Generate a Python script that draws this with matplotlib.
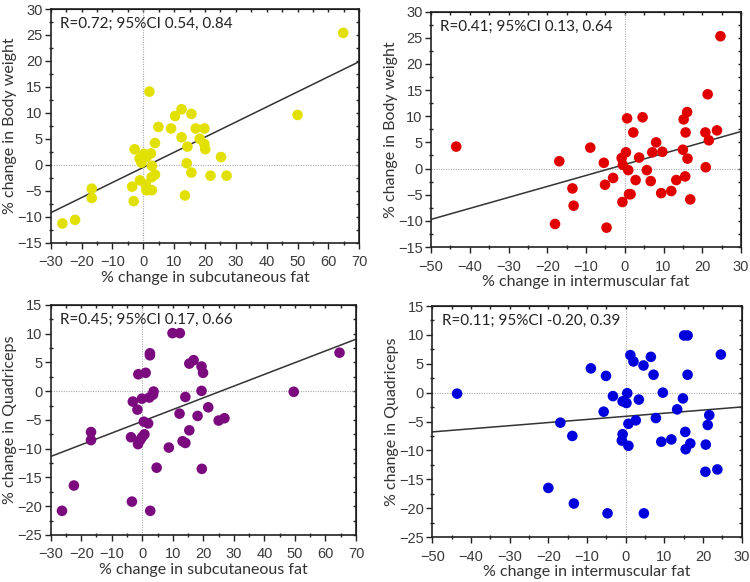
import numpy as np
import matplotlib
matplotlib.use("Agg")
import matplotlib.pyplot as plt
from matplotlib.ticker import MultipleLocator

# --- data ------------------------------------------------------------------
# top-left: subcutaneous fat vs body weight
sub_bw_x = [64.8, 50.0, 2.0, 12.4, 10.3, 15.6, 4.9, 9.0, 17.0, 19.8, 12.4, 18.3,
            3.8, 14.3, 19.8, 20.1, -2.8, 25.2, 0.2, 2.5, -1.2, 1.2, -0.6, 2.8,
            14.1, 15.6, 3.8, 2.7, 21.8, 27.0, -1.1, 0.8, -3.6, 1.0, 2.8, 13.5,
            -16.7, -16.7, -3.1, -22.1, -26.2]
sub_bw_y = [25.4, 9.6, 14.1, 10.7, 9.4, 9.8, 7.3, 7.0, 7.0, 7.0, 5.3, 5.0,
            4.2, 3.5, 4.0, 3.0, 3.0, 1.5, 2.1, 2.2, 1.2, 1.6, 0.4, -0.2,
            0.3, -1.5, -1.9, -2.4, -2.1, -2.1, -3.0, -3.8, -4.2, -4.9, -4.9, -5.9,
            -4.6, -6.4, -7.0, -10.6, -11.3]

# top-right: intermuscular fat vs body weight
imf_bw_x = [-43.5, -16.9, -8.9, -13.5, -13.2, -18.0, -4.7, -5.4, -5.1, -3.0,
            -0.8, 0.3, 0.6, -0.5, 0.9, -0.6, 1.1, 1.5, 2.2, 2.8, 3.7, 4.6, 5.7,
            6.7, 7.1, 8.1, 9.7, 9.4, 12.0, 13.3, 15.0, 15.2, 16.1, 15.7, 15.6,
            16.2, 16.9, 20.8, 21.4, 20.9, 21.7, 23.8, 24.7]
imf_bw_y = [4.2, 1.4, 4.0, -3.8, -7.1, -10.6, -11.3, 1.1, -3.1, -1.8,
            2.0, 3.1, 9.6, 0.7, -0.3, -6.4, -4.9, -4.9, 6.9, -2.2, 2.1, 9.8, -0.3,
            -2.4, 3.1, 5.0, 3.2, -4.7, -4.3, -2.2, 3.6, 9.4, 10.8, 6.9, -1.5,
            1.9, -5.9, 6.9, 14.2, 0.25, 5.4, 7.3, 25.3]

# bottom-left: subcutaneous fat vs quadriceps
sub_q_x = [64.6, 49.6, 9.9, 12.3, 2.5, 2.5, 15.4, 16.8, 19.4, 19.9, -1.3, 1.1,
           19.4, 3.7, 3.5, 2.3, -0.1, -3.1, 14.1, -1.6, 21.6, 12.2, 18.1, 25.0,
           26.9, 0.5, 1.9, 0.7, -0.1, -0.7, -1.4, -3.7, 15.4, 13.2, 14.1, 8.7,
           -16.8, -16.8, 4.7, 19.5, -22.4, -26.3, -3.4, 2.6]
sub_q_y = [6.7, -0.1, 10.1, 10.1, 6.6, 6.25, 4.8, 5.4, 4.3, 3.2, 2.95, 3.2,
           0.06, -0.06, -0.6, -1.1, -1.3, -1.8, -1.0, -3.2, -2.8, -3.9, -4.3, -5.1,
           -4.7, -5.3, -5.6, -7.5, -8.0, -8.5, -9.2, -8.0, -6.8, -8.7, -9.0, -9.8,
           -7.1, -8.5, -13.3, -13.5, -16.4, -20.8, -19.2, -20.8]

# bottom-right: intermuscular fat vs quadriceps
imf_q_x = [-43.6, -9.0, -5.1, -16.9, -13.8, -20.0, -13.4, -4.7, -5.7, -3.3,
           -0.8, 0.2, 0.4, -0.8, -1.0, 0.7, 0.7, 1.2, 2.0, 2.6, 3.4, 4.6, 6.5,
           7.2, 7.8, 9.6, 9.2, 11.8, 13.3, 14.8, 15.1, 16.0, 15.4, 16.0, 15.5,
           16.7, 21.6, 21.2, 20.7, 20.6, 23.7, 24.6, 4.7]
imf_q_y = [-0.17, 4.2, 2.9, -5.2, -7.5, -16.5, -19.2, -20.9, -3.3, -0.6,
           -1.5, -1.8, -0.1, -7.2, -8.3, -9.2, -5.4, 6.5, 5.4, -4.8, -1.2, 4.7, 6.2,
           3.1, -4.4, 0.0, -8.5, -8.1, -2.9, -1.0, 9.9, 9.9, -6.8, 3.1, -9.8,
           -8.8, -3.9, -5.6, -9.0, -13.7, -13.3, 6.6, -20.9]

# regression lines (slope, intercept)
fit_slopes = [0.291, 0.21, 0.204, 0.054]
fit_intercepts = [-0.5, 0.78, -5.23, -4.1]

stats_text = ["R=0.72; 95%CI 0.54, 0.84",
              "R=0.41; 95%CI 0.13, 0.64",
              "R=0.45; 95%CI 0.17, 0.66",
              "R=0.11; 95%CI -0.20, 0.39"]

xlabels = ["% change in subcutaneous fat", "% change in intermuscular fat",
           "% change in subcutaneous fat", "% change in intermuscular fat"]
ylabels = ["% change in Body weight", "% change in Body weight",
           "% change in Quadriceps", "% change in Quadriceps"]

xlims = [(-30, 70), (-50, 30), (-30, 70), (-50, 30)]
ylims = [(-15, 30), (-15, 30), (-25, 15), (-25, 15)]

colors = ["#e2e000", "#e00000", "#7a0a7e", "#0000dc"]

panels = [(sub_bw_x, sub_bw_y), (imf_bw_x, imf_bw_y),
          (sub_q_x, sub_q_y), (imf_q_x, imf_q_y)]

# axes rectangles in figure fractions
rects = [
    [0.0676, 0.583, 0.4114, 0.4015],
    [0.5747, 0.5756, 0.4133, 0.4044],
    [0.0676, 0.0808, 0.4071, 0.3952],
    [0.5764, 0.0773, 0.4126, 0.3969],
]

LABEL_FONT = ["Lato", "DejaVu Sans"]
TICK_FONT = ["Liberation Sans", "DejaVu Sans"]

fig = plt.figure(figsize=(7.5, 5.82), dpi=100, facecolor="white")

for i, (xs, ys) in enumerate(panels):
    ax = fig.add_axes(rects[i])
    x0, x1 = xlims[i]
    y0, y1 = ylims[i]

    ax.axhline(0, color="#aaaaaa", lw=0.8, ls=(0, (1, 1.2)), zorder=1)
    ax.axvline(0, color="#aaaaaa", lw=0.8, ls=(0, (1, 1.2)), zorder=1)

    ax.scatter(xs, ys, s=58, color=colors[i], edgecolors="none", zorder=3)

    lx = np.array([x0, x1])
    ax.plot(lx, fit_slopes[i] * lx + fit_intercepts[i], color="#333333",
            lw=1.1, zorder=2)

    ax.set_xlim(x0, x1)
    ax.set_ylim(y0, y1)
    ax.xaxis.set_major_locator(MultipleLocator(10))
    ax.xaxis.set_minor_locator(MultipleLocator(5))
    ax.yaxis.set_major_locator(MultipleLocator(5))
    ax.yaxis.set_minor_locator(MultipleLocator(2.5))
    ax.tick_params(which="major", direction="out", length=4, width=1,
                   color="#222222", labelcolor="#3a3a3a", labelsize=10.5, pad=2)
    ax.tick_params(axis="x", which="major", pad=5)
    ax.tick_params(which="minor", direction="inout", length=3, width=1,
                   color="#222222")
    for lab in ax.get_xticklabels() + ax.get_yticklabels():
        lab.set_family(TICK_FONT)

    for sp in ax.spines.values():
        sp.set_color("#222222")
        sp.set_linewidth(1.2)

    # inward ticks on top and right
    top = ax.secondary_xaxis("top")
    top.xaxis.set_major_locator(MultipleLocator(10))
    top.xaxis.set_minor_locator(MultipleLocator(5))
    top.tick_params(which="both", direction="in", length=2.5, width=1,
                    color="#222222", labeltop=False)
    right = ax.secondary_yaxis("right")
    right.yaxis.set_major_locator(MultipleLocator(5))
    right.yaxis.set_minor_locator(MultipleLocator(2.5))
    right.tick_params(which="both", direction="in", length=2.5, width=1,
                      color="#222222", labelright=False)

    ax.set_xlabel(xlabels[i], family=LABEL_FONT, fontsize=11.5, color="#333333",
                  labelpad=1)
    ax.set_ylabel(ylabels[i], family=LABEL_FONT, fontsize=11.5, color="#333333",
                  labelpad=0)

    ax.text(0.03, 0.935, stats_text[i], transform=ax.transAxes,
            family=LABEL_FONT, fontsize=11, color="#222222",
            ha="left", va="center")

fig.savefig("out.png", dpi=100, facecolor="white")
